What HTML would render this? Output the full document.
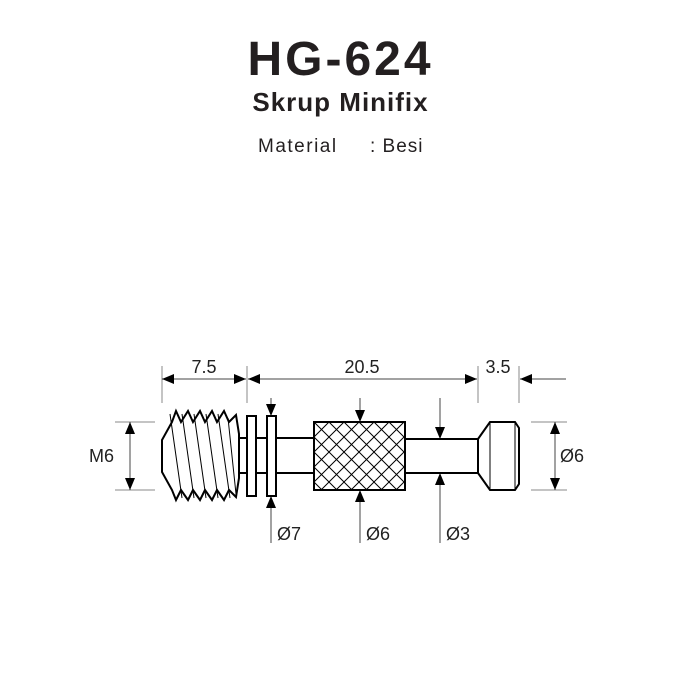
<!DOCTYPE html>
<html><head><style>
html,body{margin:0;padding:0;background:#fff;}
svg{display:block;}
</style></head><body>
<svg width="681" height="681" viewBox="0 0 681 681" xmlns="http://www.w3.org/2000/svg" font-family="Liberation Sans, sans-serif">
<defs>
<pattern id="kn" width="15" height="15" patternUnits="userSpaceOnUse" x="314" y="422">
<path d="M0,0 L15,15 M15,0 L0,15" stroke="#000" stroke-width="1"/>
</pattern>
<marker id="a" markerWidth="12" markerHeight="10" refX="12" refY="5" orient="auto-start-reverse" markerUnits="userSpaceOnUse">
<path d="M0,0 L12,5 L0,10z" fill="#000"/>
</marker>
</defs>
<text x="340.5" y="75" text-anchor="middle" font-size="48" font-weight="bold" fill="#231f20" letter-spacing="3">HG-624</text>
<text x="340.5" y="111" text-anchor="middle" font-size="26" font-weight="bold" fill="#231f20" letter-spacing="1">Skrup Minifix</text>
<text x="258" y="152" font-size="19" fill="#231f20" letter-spacing="1.5">Material</text>
<text x="370" y="152" font-size="19" fill="#231f20" letter-spacing="1">: Besi</text>

<g stroke="#888" stroke-width="1" fill="none">
<line x1="162" y1="366" x2="162" y2="403"/>
<line x1="247" y1="366" x2="247" y2="403"/>
<line x1="478" y1="366" x2="478" y2="403"/>
<line x1="519" y1="366" x2="519" y2="403"/>
<line x1="115" y1="422" x2="155" y2="422"/>
<line x1="115" y1="490" x2="155" y2="490"/>
<line x1="531" y1="422" x2="567" y2="422"/>
<line x1="531" y1="490" x2="567" y2="490"/>
</g>
<g stroke="#444" stroke-width="1" fill="none">
<line x1="162" y1="379" x2="246" y2="379" marker-start="url(#a)" marker-end="url(#a)"/>
<line x1="248" y1="379" x2="477" y2="379" marker-start="url(#a)" marker-end="url(#a)"/>
<line x1="566" y1="379" x2="520" y2="379" marker-end="url(#a)"/>
<line x1="130" y1="422" x2="130" y2="490" marker-start="url(#a)" marker-end="url(#a)"/>
<line x1="555" y1="422" x2="555" y2="490" marker-start="url(#a)" marker-end="url(#a)"/>
<line x1="271" y1="398" x2="271" y2="416" marker-end="url(#a)"/>
<line x1="271" y1="543" x2="271" y2="496" marker-end="url(#a)"/>
<line x1="360" y1="398" x2="360" y2="422" marker-end="url(#a)"/>
<line x1="360" y1="543" x2="360" y2="490" marker-end="url(#a)"/>
<line x1="440" y1="398" x2="440" y2="439" marker-end="url(#a)"/>
<line x1="440" y1="543" x2="440" y2="473" marker-end="url(#a)"/>
</g>
<g font-size="18" fill="#222">
<text x="204" y="373" text-anchor="middle">7.5</text>
<text x="362" y="373" text-anchor="middle">20.5</text>
<text x="498" y="373" text-anchor="middle">3.5</text>
<text x="89" y="462">M6</text>
<text x="560" y="462">Ø6</text>
<text x="277" y="540">Ø7</text>
<text x="366" y="540">Ø6</text>
<text x="446" y="540">Ø3</text>
</g>

<g stroke="#000" stroke-width="2" fill="#fff">
<rect x="238" y="438" width="76" height="35"/>
<rect x="405" y="439" width="75" height="34"/>
<path d="M172,422 L162,440 L162,472 L172,490 L176,500 L181,490 L188,500 L193,490 L200,500 L205,490 L212,500 L217,490 L224,500 L229,490 L236,497 L239,478 L239,434 L236,415 L229,422 L224,411 L217,422 L212,411 L205,422 L200,411 L193,422 L188,411 L181,422 L176,411 Z"/>
<rect x="247" y="416" width="9" height="80"/>
<rect x="267" y="416" width="9" height="80"/>
<rect x="314" y="422" width="91" height="68" fill="url(#kn)"/>
<path d="M478,439 L490,422 L515,422 L519,428 L519,484 L515,490 L490,490 L478,473 Z"/>
</g>
<g stroke="#000" stroke-width="1" fill="none">
<path d="M170,414 L182,498 M182,414 L194,498 M194,414 L206,498 M206,414 L218,498 M218,414 L230,498 M228,418 L236,494"/>
<line x1="490" y1="422" x2="490" y2="490"/>
<line x1="515" y1="422" x2="515" y2="490"/>
</g>
</svg>
</body></html>
